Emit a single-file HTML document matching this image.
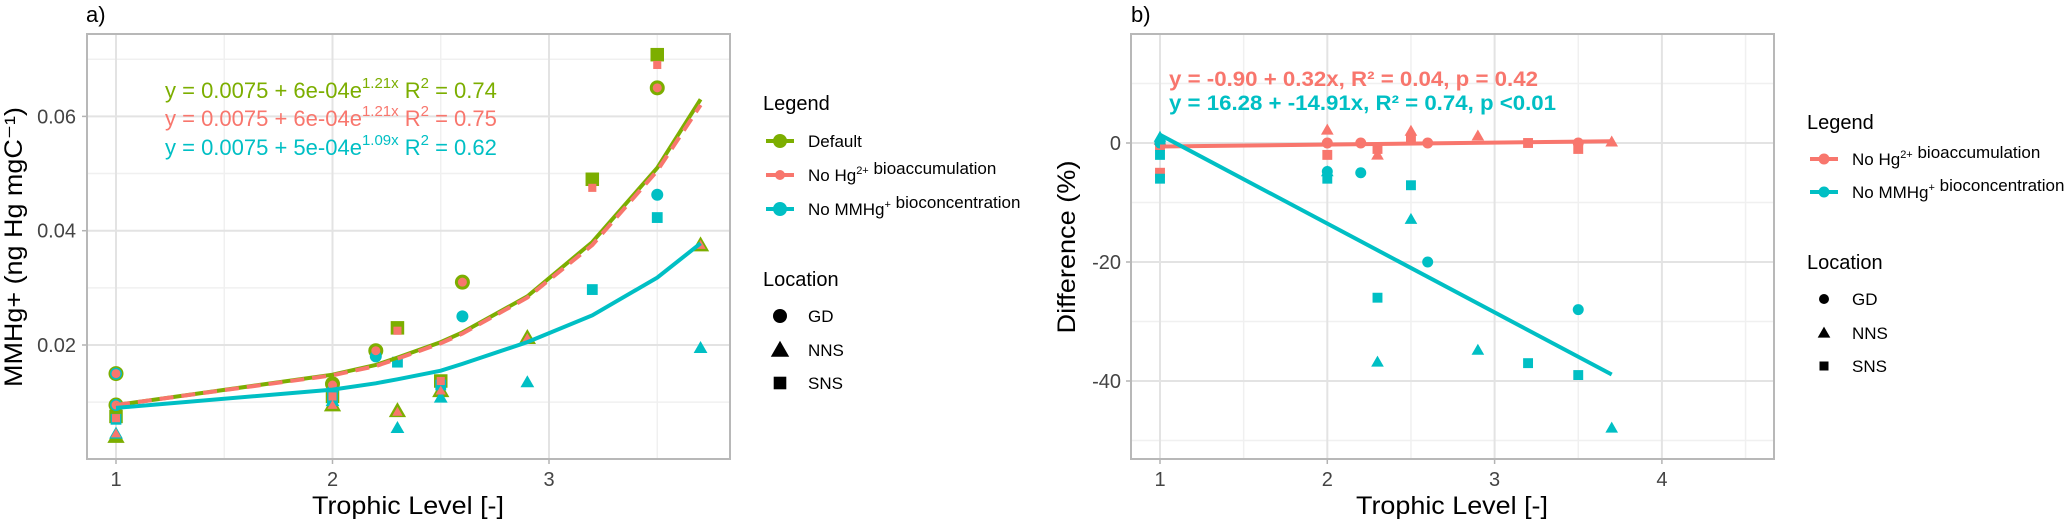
<!DOCTYPE html>
<html><head><meta charset="utf-8"><style>
html,body{margin:0;padding:0;background:#fff;}
svg{display:block;font-family:"Liberation Sans",sans-serif;}
</style></head><body>
<svg id="chart" width="2067" height="522" viewBox="0 0 2067 522" xmlns="http://www.w3.org/2000/svg">
<g id="pa"></g>
<g id="pb"></g>
<g id="leg"></g>
</svg>
<script>
// ---------- Panel a data ----------
const aXTicks = [1, 2, 3];
const aYTicks = [0.02, 0.04, 0.06];
const aYTickLabels = ["0.02", "0.04", "0.06"];
const fitX = [1, 2, 2.2, 2.3, 2.5, 2.6, 2.9, 3.2, 3.5, 3.7];
const fitDefault = [0.0095, 0.0148, 0.0165, 0.0178, 0.0205, 0.0222, 0.0285, 0.038, 0.051, 0.063];
const fitNoHg = [0.0095, 0.0147, 0.0163, 0.0176, 0.0203, 0.022, 0.0283, 0.0375, 0.0505, 0.062];
const fitNoMM = [0.009, 0.0122, 0.0133, 0.014, 0.0155, 0.0167, 0.0205, 0.0252, 0.0318, 0.0378];
// points: x, value, shape (c=GD, t=NNS, s=SNS)
const ptX = [1, 1, 1, 1, 2, 2, 2, 2.2, 2.3, 2.3, 2.5, 2.5, 2.6, 2.9, 3.2, 3.5, 3.5, 3.7];
const ptShape = ["c","c","s","t","c","s","t","c","s","t","s","t","c","t","s","s","c","t"];
const ptDefault = [0.015, 0.0095, 0.0075, 0.004, 0.0132, 0.011, 0.0095, 0.019, 0.023, 0.0085, 0.0137, 0.012, 0.031, 0.0213, 0.049, 0.0708, 0.065, 0.0375];
const ptNoHg = [0.015, 0.0095, 0.0072, 0.0045, 0.013, 0.011, 0.0095, 0.019, 0.0225, 0.0083, 0.0137, 0.012, 0.031, 0.0212, 0.0475, 0.069, 0.065, 0.0375];
const ptNoMM = [0.015, 0.0095, 0.007, 0.0045, 0.012, 0.0105, 0.0102, 0.018, 0.017, 0.0055, 0.013, 0.0108, 0.025, 0.0135, 0.0297, 0.0423, 0.0463, 0.0195];
// ---------- Panel b data ----------
const bXTicks = [1, 2, 3, 4];
const bYTicks = [0, -20, -40];
const bYTickLabels = ["0", "-20", "-40"];
const bX = [1, 1, 1, 1, 2, 2, 2, 2.2, 2.3, 2.3, 2.5, 2.5, 2.6, 2.9, 3.2, 3.5, 3.5, 3.7];
const bShape = ["c","t","s","s","c","t","s","c","s","t","s","t","c","t","s","c","s","t"];
const bNoHg = [0, 0.5, -5, -0.5, 0, 2.2, -2, 0, -1, -2, 0.5, 2, 0, 1.2, 0, 0, -1, 0.2];
const bNoMM = [0, 1, -6, -2, -4.8, -4.8, -6, -5, -26, -36.8, -7.1, -12.8, -20, -34.8, -37, -28, -39, -47.9];
const lineX = [1, 3.7];
const lineNoHg = [-0.58, 0.28];
const lineNoMM = [1.37, -38.9];

const NS = "http://www.w3.org/2000/svg";
const GREEN = "#7CAE00", SALMON = "#F8766D", TEAL = "#00BFC4";
function mk(parent, tag, attrs, text) {
  const e = document.createElementNS(NS, tag);
  for (const k in attrs) e.setAttribute(k, attrs[k]);
  if (text !== undefined) e.textContent = text;
  parent.appendChild(e);
  return e;
}
function shape(g, s, cx, cy, r, color) {
  let e;
  if (s === "c") e = mk(g, "circle", {cx: cx, cy: cy, r: r, fill: color});
  else if (s === "s") e = mk(g, "rect", {x: cx - r * 0.9, y: cy - r * 0.9, width: r * 1.8, height: r * 1.8, fill: color});
  else e = mk(g, "polygon", {points: `${cx},${cy - r * 1.15} ${cx - r * 1.15},${cy + r * 0.85} ${cx + r * 1.15},${cy + r * 0.85}`, fill: color});
  return e;
}

// ---------- Panel a ----------
const pa = document.getElementById("pa");
const ax = v => 116 + (v - 1) * 216.5;
const ay = v => 345 - (v - 0.02) / 0.02 * 114.3;
const A = {l: 87, r: 730, t: 34, b: 459};
mk(pa, "rect", {x: A.l, y: A.t, width: A.r - A.l, height: A.b - A.t, fill: "#fff"});
[0.01, 0.03, 0.05, 0.07].forEach(v => mk(pa, "line", {x1: A.l, x2: A.r, y1: ay(v), y2: ay(v), stroke: "#F0F0F0", "stroke-width": 1.5}));
[1.5, 2.5, 3.5].forEach(v => mk(pa, "line", {x1: ax(v), x2: ax(v), y1: A.t, y2: A.b, stroke: "#F0F0F0", "stroke-width": 1.5}));
aYTicks.forEach((v, i) => {
  const l = mk(pa, "line", {x1: A.l, x2: A.r, y1: ay(v), y2: ay(v), stroke: "#E3E3E3", "stroke-width": 2});
  
  
  const t = mk(pa, "text", {x: 76, y: ay(v) + 7, "text-anchor": "end", "font-size": 20, fill: "#444"}, aYTickLabels[i]);
  
  
  mk(pa, "line", {x1: A.l - 5, x2: A.l, y1: ay(v), y2: ay(v), stroke: "#B3B3B3", "stroke-width": 1.5});
});
aXTicks.forEach(v => {
  const l = mk(pa, "line", {x1: ax(v), x2: ax(v), y1: A.t, y2: A.b, stroke: "#E3E3E3", "stroke-width": 2});
  
  
  mk(pa, "line", {x1: ax(v), x2: ax(v), y1: A.b, y2: A.b + 5, stroke: "#B3B3B3", "stroke-width": 1.5});
  const t = mk(pa, "text", {x: ax(v), y: 486, "text-anchor": "middle", "font-size": 20, fill: "#444"}, String(v));
  
  
});
function pathFrom(xs, ys, fx, fy) { return xs.map((x, i) => (i ? "L" : "M") + fx(x).toFixed(1) + "," + fy(ys[i]).toFixed(1)).join(" "); }
// points
ptX.forEach((x, i) => {
  const e = shape(pa, ptShape[i], ax(x), ay(ptDefault[i]), 7.5, GREEN);
  
  
});
ptX.forEach((x, i) => {
  const e = shape(pa, ptShape[i], ax(x), ay(ptNoMM[i]), 6, TEAL);
  
  
});
ptX.forEach((x, i) => {
  const e = shape(pa, ptShape[i], ax(x), ay(ptNoHg[i]), 4.5, SALMON);
  
  
});
let p = mk(pa, "path", {d: pathFrom(fitX, fitDefault, ax, ay), fill: "none", stroke: GREEN, "stroke-width": 4});


p = mk(pa, "path", {d: pathFrom(fitX, fitNoHg, ax, ay), fill: "none", stroke: SALMON, "stroke-width": 4, "stroke-dasharray": "14 8"});


p = mk(pa, "path", {d: pathFrom(fitX, fitNoMM, ax, ay), fill: "none", stroke: TEAL, "stroke-width": 4});


mk(pa, "rect", {x: A.l, y: A.t, width: A.r - A.l, height: A.b - A.t, fill: "none", stroke: "#B8B8B8", "stroke-width": 2});
// equations
[[GREEN, "6e-04", "1.21x", "0.74", 98], [SALMON, "6e-04", "1.21x", "0.75", 126], [TEAL, "5e-04", "1.09x", "0.62", 155]].forEach(d => {
  const t = mk(pa, "text", {x: 165, y: d[4], "font-size": 22, fill: d[0]});
  
  
  mk(t, "tspan", {}, "y = 0.0075 + " + d[1] + "e");
  mk(t, "tspan", {dy: -10, "font-size": 15}, d[2]);
  mk(t, "tspan", {dy: 10}, " R");
  mk(t, "tspan", {dy: -10, "font-size": 15}, "2");
  mk(t, "tspan", {dy: 10}, " = " + d[3]);
});
let t = mk(pa, "text", {x: 86, y: 22, "font-size": 22, fill: "#000"}, "a)");
 
t = mk(pa, "text", {x: 408, y: 514, "text-anchor": "middle", "font-size": 25, fill: "#000", textLength: 192, lengthAdjust: "spacingAndGlyphs"}, "Trophic Level [-]");
 
t = mk(pa, "text", {x: 0, y: 0, transform: "translate(22,247) rotate(-90)", "text-anchor": "middle", "font-size": 25, fill: "#000", textLength: 280, lengthAdjust: "spacingAndGlyphs"}, "MMHg+ (ng Hg mgC\u207B\u00B9)");
 

// ---------- Panel b ----------
const pb = document.getElementById("pb");
const bx = v => 1160 + (v - 1) * 167.3;
const by = v => 143 - v / 20 * 119;
const B = {l: 1131, r: 1774, t: 34, b: 459};
[10, -10, -30, -50].forEach(v => mk(pb, "line", {x1: B.l, x2: B.r, y1: by(v), y2: by(v), stroke: "#F0F0F0", "stroke-width": 1.5}));
[1.5, 2.5, 3.5, 4.5].forEach(v => mk(pb, "line", {x1: bx(v), x2: bx(v), y1: B.t, y2: B.b, stroke: "#F0F0F0", "stroke-width": 1.5}));
bYTicks.forEach((v, i) => {
  const l = mk(pb, "line", {x1: B.l, x2: B.r, y1: by(v), y2: by(v), stroke: "#E3E3E3", "stroke-width": 2});
  
  
  mk(pb, "line", {x1: B.l - 5, x2: B.l, y1: by(v), y2: by(v), stroke: "#B3B3B3", "stroke-width": 1.5});
  const tt = mk(pb, "text", {x: 1121, y: by(v) + 7, "text-anchor": "end", "font-size": 20, fill: "#444"}, bYTickLabels[i]);
  
  
});
bXTicks.forEach(v => {
  const l = mk(pb, "line", {x1: bx(v), x2: bx(v), y1: B.t, y2: B.b, stroke: "#E3E3E3", "stroke-width": 2});
  
  
  mk(pb, "line", {x1: bx(v), x2: bx(v), y1: B.b, y2: B.b + 5, stroke: "#B3B3B3", "stroke-width": 1.5});
  const tt = mk(pb, "text", {x: bx(v), y: 486, "text-anchor": "middle", "font-size": 20, fill: "#444"}, String(v));
  
  
});
bX.forEach((x, i) => {
  const e = shape(pb, bShape[i], bx(x), by(bNoHg[i]), 5.5, SALMON);
  
  
});
bX.forEach((x, i) => {
  const e = shape(pb, bShape[i], bx(x), by(bNoMM[i]), 5.5, TEAL);
  
  
});
p = mk(pb, "path", {d: pathFrom(lineX, lineNoHg, bx, by), fill: "none", stroke: SALMON, "stroke-width": 4});


p = mk(pb, "path", {d: pathFrom(lineX, lineNoMM, bx, by), fill: "none", stroke: TEAL, "stroke-width": 4});


mk(pb, "rect", {x: B.l, y: B.t, width: B.r - B.l, height: B.b - B.t, fill: "none", stroke: "#B8B8B8", "stroke-width": 2});
t = mk(pb, "text", {x: 1169, y: 86, "font-size": 21, "font-weight": "bold", fill: SALMON, textLength: 369, lengthAdjust: "spacingAndGlyphs"}, "y = -0.90 + 0.32x, R\u00B2 = 0.04, p = 0.42");
 
t = mk(pb, "text", {x: 1169, y: 110, "font-size": 21, "font-weight": "bold", fill: TEAL, textLength: 387, lengthAdjust: "spacingAndGlyphs"}, "y = 16.28 + -14.91x, R\u00B2 = 0.74, p <0.01");
 
t = mk(pb, "text", {x: 1131, y: 22, "font-size": 22, fill: "#000"}, "b)");
 
t = mk(pb, "text", {x: 1452, y: 514, "text-anchor": "middle", "font-size": 25, fill: "#000", textLength: 192, lengthAdjust: "spacingAndGlyphs"}, "Trophic Level [-]");
 
t = mk(pb, "text", {x: 0, y: 0, transform: "translate(1075,247) rotate(-90)", "text-anchor": "middle", "font-size": 25, fill: "#000", textLength: 173, lengthAdjust: "spacingAndGlyphs"}, "Difference (%)");
 

// ---------- Legends ----------
const leg = document.getElementById("leg");
function legTitle(x, y, s) {
  const e = mk(leg, "text", {x: x, y: y, "font-size": 20, fill: "#000"}, s);
  
  
}
function legEntry(x, y, color, r, parts) {
  const g = mk(leg, "g", {});
  
  
  mk(g, "line", {x1: x, x2: x + 28, y1: y, y2: y, stroke: color, "stroke-width": 4});
  mk(g, "circle", {cx: x + 14, cy: y, r: r, fill: color});
  const tt = mk(g, "text", {x: x + 42, y: y + 6, "font-size": 17, fill: "#000"});
  parts.forEach(pp => { if (pp[1]) { mk(tt, "tspan", {dy: -7, "font-size": 11}, pp[0]); mk(tt, "tspan", {dy: 7}, ""); } else mk(tt, "tspan", {}, pp[0]); });
}
function shapeEntry(x, y, s, r, label) {
  const g = mk(leg, "g", {});
  
  
  shape(g, s, x + 14, y, r, "#000");
  mk(g, "text", {x: x + 42, y: y + 6, "font-size": 17, fill: "#000"}, label);
}
legTitle(763, 110, "Legend");
legEntry(766, 141, GREEN, 7, [["Default"]]);
legEntry(766, 175, SALMON, 5, [["No Hg"], ["2+", 1], [" bioaccumulation"]]);
legEntry(766, 209, TEAL, 7, [["No MMHg"], ["+", 1], [" bioconcentration"]]);
legTitle(763, 286, "Location");
shapeEntry(766, 316, "c", 7, "GD");
shapeEntry(766, 350, "t", 8, "NNS");
shapeEntry(766, 383, "s", 7, "SNS");
legTitle(1807, 129, "Legend");
legEntry(1810, 159, SALMON, 5.5, [["No Hg"], ["2+", 1], [" bioaccumulation"]]);
legEntry(1810, 192, TEAL, 5.5, [["No MMHg"], ["+", 1], [" bioconcentration"]]);
legTitle(1807, 269, "Location");
shapeEntry(1810, 299, "c", 5, "GD");
shapeEntry(1810, 333, "t", 5.5, "NNS");
shapeEntry(1810, 366, "s", 5, "SNS");
</script>
</body></html>
